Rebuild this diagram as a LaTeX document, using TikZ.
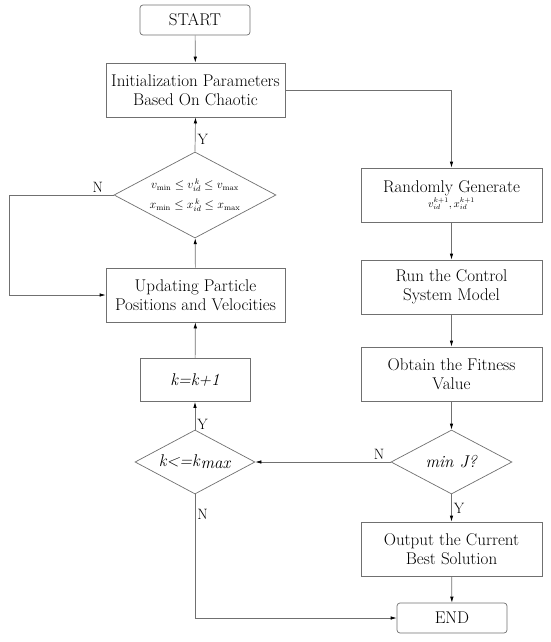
\documentclass[tikz,border=0pt]{standalone}
\usepackage{amsmath}
\usepackage{tikz}
\usetikzlibrary{shapes.geometric}
\usetikzlibrary{arrows.meta}
\definecolor{edge}{RGB}{112,112,112}
\tikzset{
    blk/.style={
        draw=edge, line width=0.7pt, fill=white, align=center, inner sep=0pt,
        minimum width=#1, minimum height=54pt,
        font=\fontsize{17}{19}\selectfont
    },
    blk/.default=181pt,
    term/.style={blk=110pt, minimum height=30pt, rounded corners=3pt},
    cond/.style={
        diamond, draw=edge, line width=0.7pt, fill=white, inner sep=0pt, align=center,
        aspect=1.88, font=\fontsize{17}{19}\selectfont
    },
    line/.style={draw=edge, line width=0.7pt, -{Latex[color=black,length=6pt,width=3.5pt]}},
    lbl/.style={font=\fontsize{15}{16}\selectfont, inner sep=2pt}
}
\begin{document}
\begin{tikzpicture}[x=1pt,y=-1pt]
		\useasboundingbox (0,0) rectangle (550,642);

		% Left column
		\node[term] (start) at (195,20) {START};
		\node[blk=179pt] (init) at (195.5,90) {Initialization Parameters\\Based On Chaotic};
		\node[cond, minimum width=162pt, minimum height=86pt,
			font=\fontsize{12}{20}\selectfont] (chk) at (195,195)
			{$v_{\min}\le v_{id}^{\,k}\le v_{\max}$\\
			 $x_{\min}\le x_{id}^{\,k}\le x_{\max}$};
		\node[blk=179pt] (upd) at (195.5,295) {Updating Particle\\Positions and Velocities};
		\node[blk=110pt, minimum height=43pt] (kinc) at (195,380) {\textit{k=k+1}};
		\node[cond, minimum width=120pt, minimum height=64pt] (kmax) at (195,462)
			{\textit{k<=k}\raisebox{-2pt}{\textit{max}}};
		\coordinate (loop) at (9,195);

		% Right column
		\node[blk] (rand) at (451.5,195) {Randomly Generate\\[-4pt]
			{\fontsize{10.5}{13}\selectfont $v_{id}^{k+1},x_{id}^{k+1}$}};
		\node[blk] (run) at (451.5,287) {Run the Control\\System Model};
		\node[blk] (fit) at (451.5,374) {Obtain the Fitness\\Value};
		\node[cond, minimum width=121pt, minimum height=64pt] (minj) at (451.5,462) {\textit{min J?}};
		\node[blk] (best) at (451.5,549) {Output the Current\\Best Solution};
		\node[term, minimum width=110pt] (end) at (452,618) {END};

		% Connectors
		\draw[line] (start) -- (init);
		\draw[line] (init.east) -| (rand.north);
		\draw[line] (rand) -- (run);
		\draw[line] (run) -- (fit);
		\draw[line] (fit) -- (minj);
		\draw[line] (minj) -- node[lbl, right] {Y} (best);
		\draw[line] (best) -- (end);
		\draw[line] (minj.west) -- node[lbl, pos=0.03, above left] {N} (kmax.east);
		\draw[line] (kmax.north) -- node[lbl, pos=0.2, right] {Y} (kinc.south);
		\draw[line] (kinc) -- (upd);
		\draw[line] (upd) -- (chk);
		\draw[line] (chk.north) -- node[lbl, pos=0.35, right] {Y} (init.south);
		\draw[line] (chk.west) -- node[lbl, pos=0.08, above left] {N} (loop) |- (upd.west);
		\draw[line] (kmax.south) |- node[lbl, pos=0.08, right] {N} (end.west);

	\end{tikzpicture}
\end{document}
